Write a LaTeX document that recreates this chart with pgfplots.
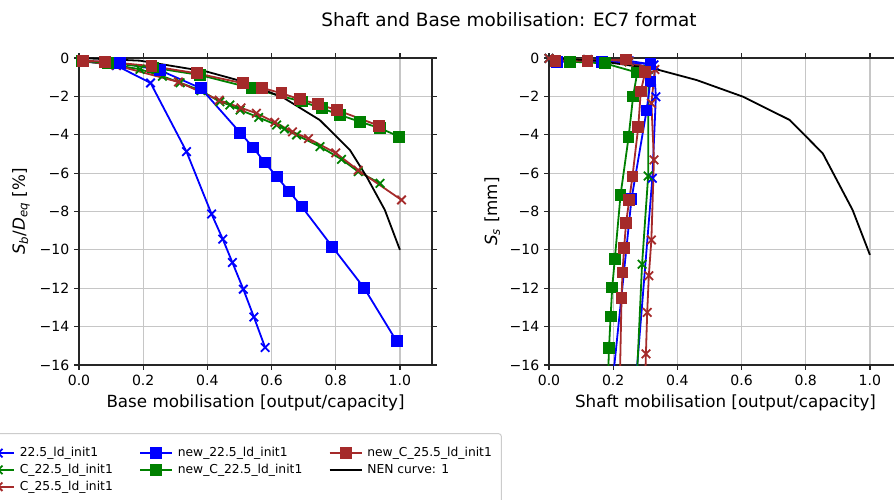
\documentclass[border=0pt]{standalone}
\usepackage{fontspec}
\setmainfont{DejaVu Sans}
\usepackage{pgfplots}
\pgfplotsset{compat=1.18}
\definecolor{mblue}{RGB}{0,0,255}
\definecolor{mgreen}{RGB}{0,128,0}
\definecolor{mbrown}{RGB}{165,42,42}
\definecolor{gridc}{RGB}{198,198,198}
\def\u{0.25mm}
\pgfplotsset{
  base/.style={
    scale only axis, width=88.25mm, height=76.75mm,
    xmin=0, xmax=1.1, ymin=-16, ymax=0,
    xtick={0,0.2,0.4,0.6,0.8,1.0},
    xticklabels={0.0,0.2,0.4,0.6,0.8,1.0},
    ytick={0,-2,-4,-6,-8,-10,-12,-14,-16},
    yticklabels={0,−2,−4,−6,−8,−10,−12,−14,−16},
    grid=major, grid style={gridc, line width=0.3mm},
    axis line style={line width=0.3mm, black!85},
    tick align=outside, major tick length=1.2mm,
    tick style={line width=0.3mm, black!85},
    tick label style={font=\fontsize{10}{12}\selectfont},
    label style={font=\fontsize{11.9}{14}\selectfont},
    clip=true,
  },
  sx/.style={#1, line width=0.45mm, mark=x, mark size=1.5mm, mark options={solid}},
  sq/.style={#1, line width=0.45mm, mark=square*, mark size=1.25mm, mark options={solid}},
  nen/.style={black, line width=0.45mm},
}
\begin{document}
\begin{tikzpicture}
% ---------------- left axis
\begin{axis}[base, at={(79*\u,-365*\u)}, anchor=south west,
  xlabel={Base mobilisation [output/capacity]},
  ylabel={{\itshape S}\textsubscript{\itshape b}/{\itshape D}\textsubscript{\itshape eq} [\%]}]
\addplot[sx=mblue] coordinates {(0.01,-0.15) (0.117,-0.40) (0.223,-1.30) (0.335,-4.88) (0.413,-8.13) (0.448,-9.44) (0.478,-10.66) (0.512,-12.05) (0.545,-13.50) (0.580,-15.09)};
\addplot[sx=mgreen] coordinates {(0.01,-0.18) (0.09,-0.30) (0.19,-0.59) (0.260,-0.95) (0.315,-1.29) (0.380,-1.70) (0.439,-2.28) (0.470,-2.45) (0.502,-2.71) (0.560,-3.10) (0.616,-3.49) (0.640,-3.70) (0.678,-4.01) (0.751,-4.62) (0.818,-5.28) (0.870,-5.92) (0.938,-6.53)};
\addplot[sx=mbrown] coordinates {(0.01,-0.15) (0.115,-0.38) (0.310,-1.25) (0.437,-2.20) (0.505,-2.60) (0.553,-2.88) (0.610,-3.35) (0.665,-3.85) (0.715,-4.20) (0.800,-4.95) (0.870,-5.85) (1.005,-7.40)};
\addplot[sq=mblue] coordinates {(0.01,-0.15) (0.128,-0.25) (0.252,-0.64) (0.380,-1.58) (0.502,-3.89) (0.543,-4.67) (0.579,-5.45) (0.616,-6.18) (0.655,-6.96) (0.694,-7.74) (0.789,-9.83) (0.889,-12.00) (0.990,-14.77)};
\addplot[sq=mgreen] coordinates {(0.01,-0.15) (0.09,-0.25) (0.230,-0.50) (0.377,-0.89) (0.540,-1.58) (0.694,-2.27) (0.756,-2.62) (0.813,-2.97) (0.875,-3.32) (0.938,-3.66) (0.998,-4.10)};
\addplot[sq=mbrown] coordinates {(0.013,-0.14) (0.081,-0.19) (0.226,-0.42) (0.367,-0.80) (0.512,-1.32) (0.569,-1.55) (0.631,-1.84) (0.688,-2.15) (0.745,-2.41) (0.803,-2.71) (0.935,-3.53)};
\addplot[nen] coordinates {(0,0) (0.19,-0.14) (0.398,-0.71) (0.52,-1.27) (0.64,-2.10) (0.75,-3.23) (0.844,-4.79) (0.896,-6.18) (0.953,-7.92) (1.0,-10.0)};
\end{axis}
% ---------------- right axis
\begin{axis}[base, at={(549*\u,-365*\u)}, anchor=south west,
  xlabel={Shaft mobilisation [output/capacity]},
  ylabel={{\itshape S}\textsubscript{\itshape s} [mm]}]
\addplot[sx=mblue] coordinates {(0.00,-0.02) (0.12,-0.08) (0.25,-0.15) (0.327,-0.36) (0.333,-2.02) (0.322,-6.27) (0.272,-16.6)};
\addplot[sx=mgreen] coordinates {(0.00,-0.02) (0.12,-0.08) (0.25,-0.20) (0.31,-0.60) (0.309,-6.15) (0.290,-10.75) (0.274,-16.6)};
\addplot[sx=mbrown] coordinates {(0.00,-0.02) (0.12,-0.08) (0.25,-0.20) (0.33,-0.60) (0.319,-2.36) (0.327,-5.31) (0.319,-9.48) (0.311,-11.35) (0.306,-13.26) (0.302,-15.42) (0.300,-16.6)};
\addplot[sq=mblue] coordinates {(0.024,-0.19) (0.164,-0.19) (0.316,-0.31) (0.316,-1.23) (0.304,-2.74) (0.257,-7.36) (0.200,-16.6)};
\addplot[sq=mgreen] coordinates {(0.065,-0.19) (0.174,-0.28) (0.275,-0.76) (0.262,-2.01) (0.248,-4.13) (0.223,-7.13) (0.205,-10.49) (0.197,-11.96) (0.192,-13.47) (0.187,-15.12) (0.184,-16.6)};
\addplot[sq=mbrown] coordinates {(0.02,-0.14) (0.12,-0.14) (0.24,-0.08) (0.300,-0.71) (0.286,-1.75) (0.278,-3.61) (0.260,-6.18) (0.250,-7.40) (0.240,-8.61) (0.234,-9.91) (0.229,-11.18) (0.226,-12.52) (0.221,-16.6)};
\addplot[nen] coordinates {(0,0) (0.15,-0.14) (0.335,-0.59) (0.46,-1.15) (0.605,-2.02) (0.75,-3.23) (0.853,-4.97) (0.946,-7.92) (1.0,-10.26)};
\end{axis}
% ---------------- legend
\begin{axis}[hide axis, scale only axis, width=1mm, height=1mm,
  xmin=0, xmax=1, ymin=0, ymax=1,
  at={(-24*\u,-433*\u)}, anchor=north west,
  legend columns=3,
  legend cell align=left,
  legend image code/.code={\draw[mark repeat=2,mark phase=2,#1] plot coordinates {(0mm,0mm) (4mm,0mm) (8mm,0mm)};},
  legend style={at={(0,1)}, anchor=north west, draw=black!20, line width=0.25mm,
    rounded corners=0.8mm, fill=white,
    font=\fontsize{8.75}{10}\selectfont,
    inner xsep=1.2mm, inner ysep=2.8mm,
    nodes={text height=2.3mm, text depth=0.6mm, inner ysep=0.65mm, inner xsep=1.2mm},
    /tikz/every even column/.append style={column sep=5.4mm}},
]
\addlegendimage{sx=mblue}\addlegendentry{22.5\_ld\_init1}
\addlegendimage{sq=mblue}\addlegendentry{new\_22.5\_ld\_init1}
\addlegendimage{sq=mbrown}\addlegendentry{new\_C\_25.5\_ld\_init1}
\addlegendimage{sx=mgreen}\addlegendentry{C\_22.5\_ld\_init1}
\addlegendimage{sq=mgreen}\addlegendentry{new\_C\_22.5\_ld\_init1}
\addlegendimage{nen}\addlegendentry{NEN curve: 1}
\addlegendimage{sx=mbrown}\addlegendentry{C\_25.5\_ld\_init1}
\end{axis}
\node[font=\fontsize{13.1}{16}\selectfont] at (509*\u,-20*\u) {Shaft and Base mobilisation: EC7 format};
\pgfresetboundingbox
\path[use as bounding box] (0,0) rectangle (894*\u,-500*\u);
\end{tikzpicture}
\end{document}
